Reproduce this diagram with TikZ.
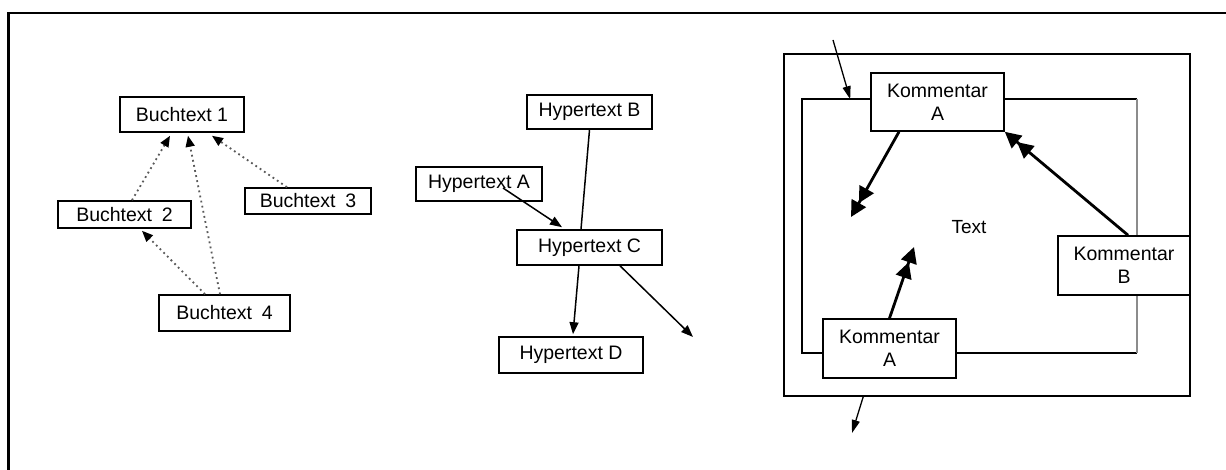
\documentclass[tikz,border=0pt]{standalone}
\usepackage{fontspec}
\setmainfont{Liberation Sans}
\usetikzlibrary{arrows.meta}
\begin{document}
\begin{tikzpicture}[x=1pt,y=-1pt,
  box/.style={draw=black,line width=1.6pt,fill=white,inner sep=0pt,
    font=\fontsize{19.5}{23}\selectfont,align=center},
  dotarrow/.style={draw=black!65,line width=1.8pt,dash pattern=on 1.8pt off 3.4pt,
    -{Triangle[length=11pt,width=9pt,color=black]}},
  hyperarrow/.style={draw=black,line width=1.5pt,-{Triangle[length=12pt,width=9pt]}},
  thinarrow/.style={draw=black,line width=1.3pt,-{Triangle[length=13pt,width=8pt]}},
  boldarrow/.style={draw=black,line width=2.8pt,
    -{Triangle[length=16pt,width=16pt]Triangle[length=16pt,width=16pt]}},
  frame/.style={draw=black,line width=1.6pt,inner sep=0pt}
]
\useasboundingbox (0,0) rectangle (1226,470);
% page border (top and left only)
\draw[line width=2.4pt] (1226,13) -- (8.5,13) -- (8.5,470);

% --- book texts ---
\node[box,minimum width=124pt,minimum height=35pt] (B1) at (182,114.5) {Buchtext 1};
\node[box,minimum width=133pt,minimum height=27pt] (B2) at (124.5,214.5) {Buchtext\hspace{0.5em}2};
\node[box,minimum width=126pt,minimum height=26pt] (B3) at (308,201) {Buchtext\hspace{0.5em}3};
\node[box,minimum width=131pt,minimum height=36pt] (B4) at (224.5,313) {Buchtext\hspace{0.5em}4};

\draw[dotarrow] ([xshift=7.5pt]B2.north) -- ([xshift=-12pt,yshift=-3pt]B1.south);
\draw[dotarrow] ([xshift=-4.5pt]B4.north) -- ([xshift=6pt,yshift=-3pt]B1.south);
\draw[dotarrow] ([xshift=-21pt]B3.north) -- ([xshift=30pt,yshift=-3pt]B1.south);
\draw[dotarrow] ([xshift=-19.5pt]B4.north) -- ([xshift=17.5pt,yshift=-2pt]B2.south);

% --- hypertexts ---
\node[box,minimum width=125pt,minimum height=34pt] (HB) at (589.5,112) {Hypertext B};
\node[box,minimum width=126pt,minimum height=34pt] (HA) at (479,184) {Hypertext A};
\node[box,minimum width=145pt,minimum height=35pt] (HC) at (589.5,247.5) {Hypertext C};
\node[box,minimum width=144pt,minimum height=36pt] (HD) at (571,355) {Hypertext D};
\coordinate (Hout) at (693,337);

\draw[line width=1.5pt] (HB.south) -- ([xshift=-8.5pt]HC.north);
\draw[hyperarrow] ([xshift=24pt,yshift=-4pt]HA.center) -- ([xshift=-27.5pt,yshift=2pt]HC.north);
\draw[hyperarrow] ([xshift=-10.5pt]HC.south) -- ([xshift=2pt,yshift=2pt]HD.north);
\draw[hyperarrow] ([xshift=30.5pt]HC.south) -- (Hout);

% --- commented text ---
\node[frame,draw,minimum width=406pt,minimum height=342pt] (outer) at (987,225) {};
\node[frame,draw=none,minimum width=333pt,minimum height=252pt] (inner) at (969.5,226) {};
\draw[line width=1.6pt] (inner.north east) -- (inner.north west) -- (inner.south west) -- (inner.south east);
\draw[line width=1.6pt,black!45] (inner.north east) -- (inner.south east);
\node[font=\fontsize{19}{23}\selectfont] (T) at (969,227) {Text};

\node[box,minimum width=133pt,minimum height=58pt] (KA1) at (937.5,102) {Kommentar\\A};
\node[box,minimum width=132pt,minimum height=59pt] (KB) at (1124,265.5) {Kommentar\\B};
\node[box,minimum width=133pt,minimum height=59pt] (KA2) at (889.5,348.5) {Kommentar\\A};

\coordinate (Kin) at (833,40);
\coordinate (Kout) at (852,433);
\coordinate (t1) at (851,217);
\coordinate (t2) at (914,247);

\draw[thinarrow] (Kin) -- ([xshift=48pt]inner.north west);
\draw[thinarrow] ([xshift=80pt]outer.south west) -- (Kout);
\draw[boldarrow] ([xshift=-38.5pt]KA1.south) -- (t1);
\draw[boldarrow] ([xshift=4pt]KB.north) -- (KA1.south east);
\draw[boldarrow] (KA2.north) -- (t2);
\end{tikzpicture}
\end{document}
